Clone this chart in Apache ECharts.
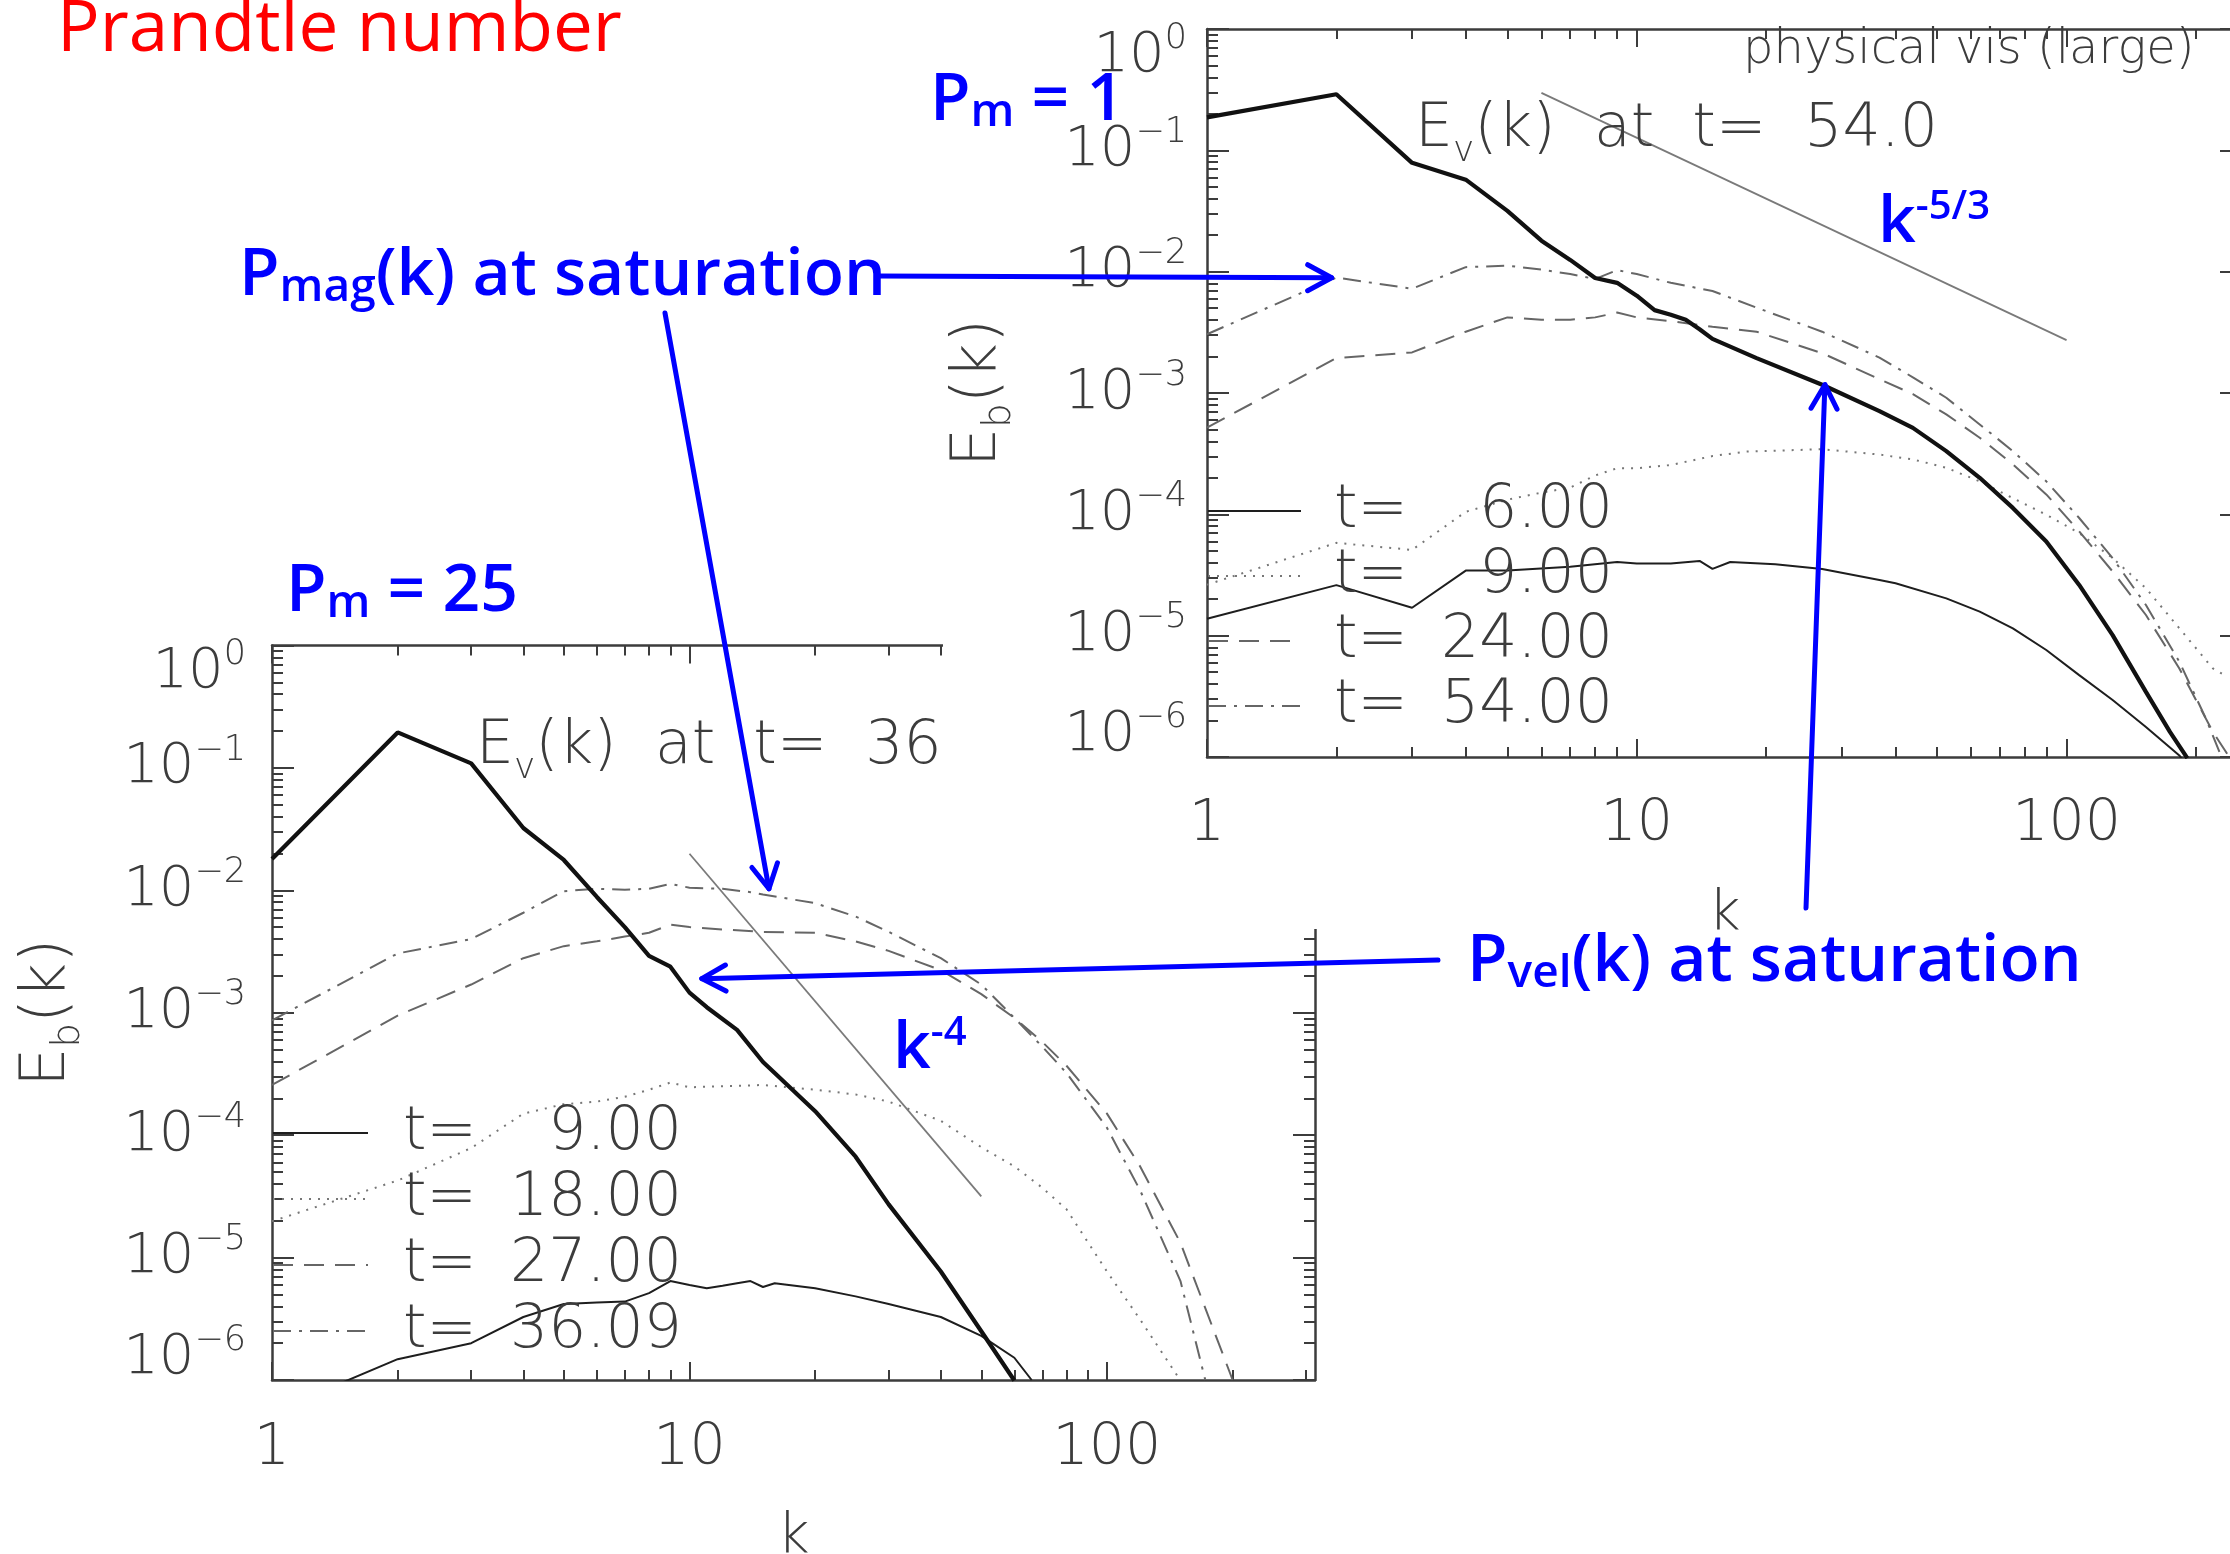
<!DOCTYPE html>
<html>
<head>
<meta charset="utf-8">
<title>Magnetic Prandtl number and the saturated spectra</title>
<script src="https://cdn.jsdelivr.net/npm/echarts@6.0.0/dist/echarts.min.js"></script>
<style>
  html, body { margin: 0; padding: 0; background: #ffffff; }
  #chart { width: 2230px; height: 1554px; }
</style>
</head>
<body>
<div id="chart"></div>
<script>
// ---------------- P_m = 1 run (upper panel) ----------------
// kinetic spectrum E_v(k) at t = 54.0
const pm1_kEv = [1, 2, 3, 4, 5, 6, 7, 8, 9, 10, 11, 12, 13, 14, 15, 19, 27, 36.7, 43.9, 52.5, 62.8, 75, 89.7, 107, 128, 153, 174, 191];
const pm1_Ev  = [0.187, 0.290, 0.0789, 0.0573, 0.0317, 0.0180, 0.0125, 0.00887, 0.00809, 0.00634, 0.00482, 0.00442, 0.00401, 0.00335, 0.00279, 0.00194, 0.00117, 7.10e-4, 5.16e-4, 3.32e-4, 2.00e-4, 1.13e-4, 5.98e-5, 2.62e-5, 1.01e-5, 3.44e-6, 1.61e-6, 9.8e-7];
// magnetic spectra E_b(k)
const pm1_kB6  = [1, 2, 3, 4, 5, 7, 9, 10, 12, 14, 15, 16.5, 21, 27, 36.7, 40, 52.5, 62.8, 75, 89.7, 107, 128, 153, 183, 187];
const pm1_B6   = [1.38e-5, 2.61e-5, 1.70e-5, 3.44e-5, 3.44e-5, 3.70e-5, 4.05e-5, 3.94e-5, 3.94e-5, 4.13e-5, 3.55e-5, 4.05e-5, 3.87e-5, 3.55e-5, 2.88e-5, 2.70e-5, 2.03e-5, 1.58e-5, 1.15e-5, 7.62e-6, 4.73e-6, 2.95e-6, 1.77e-6, 1.03e-6, 9.3e-7];
const pm1_kB9  = [1, 2, 3, 4, 5, 6, 7, 8, 9, 10, 12, 15, 18, 27, 36.7, 44, 52.5, 62.8, 75, 89.7, 107, 128, 153, 183, 219, 237];
const pm1_B9   = [2.63e-5, 5.82e-5, 5.09e-5, 1.05e-4, 1.32e-4, 1.51e-4, 1.66e-4, 2.09e-4, 2.40e-4, 2.40e-4, 2.55e-4, 3.02e-4, 3.29e-4, 3.44e-4, 3.11e-4, 2.83e-4, 2.42e-4, 1.87e-4, 1.36e-4, 9.93e-5, 7.01e-5, 4.36e-5, 2.46e-5, 1.15e-5, 5.37e-6, 4.58e-6];
const pm1_kB24 = [1, 2, 3, 4, 5, 6, 7, 8, 9, 10, 12, 15, 19, 27, 36.7, 44, 52.5, 62.8, 75, 89.7, 107, 128, 153, 183, 219, 240];
const pm1_B24  = [5.18e-4, 1.94e-3, 2.16e-3, 3.20e-3, 4.20e-3, 4.01e-3, 4.01e-3, 4.20e-3, 4.60e-3, 4.20e-3, 3.91e-3, 3.51e-3, 3.20e-3, 2.13e-3, 1.30e-3, 9.75e-4, 6.67e-4, 4.28e-4, 2.58e-4, 1.46e-4, 7.24e-5, 3.38e-5, 1.48e-5, 5.37e-6, 1.61e-6, 9.8e-7];
const pm1_kB54 = [1, 2, 3, 4, 5, 6, 7, 8, 9, 10, 12, 15, 19, 27, 36.7, 44, 52.5, 62.8, 75, 89.7, 107, 128, 153, 183, 211, 230];
const pm1_B54  = [3.05e-3, 8.93e-3, 7.24e-3, 0.0109, 0.0112, 0.0104, 9.55e-3, 8.71e-3, 0.0103, 9.55e-3, 8.09e-3, 6.93e-3, 5.05e-3, 3.20e-3, 1.96e-3, 1.34e-3, 9.14e-4, 5.51e-4, 3.32e-4, 1.87e-4, 9.33e-5, 4.36e-5, 1.79e-5, 6.10e-6, 2.07e-6, 9.8e-7];
// Kolmogorov k^-5/3 guide
const pm1_kRef = [6, 100];
const pm1_Ref  = [0.2975, 0.002725];
const pm1_times = ['6.00', '9.00', '24.00', '54.00'];

// ---------------- P_m = 25 run (lower panel) ----------------
// kinetic spectrum E_v(k) at t = 36
const pm25_kEv = [1, 2, 3, 4, 5, 6, 7, 8, 9, 10, 11, 13, 15, 16, 20, 25, 30, 40, 50, 60];
const pm25_Ev  = [0.0180, 0.195, 0.109, 0.0323, 0.0177, 8.83e-3, 5.01e-3, 2.92e-3, 2.38e-3, 1.46e-3, 1.11e-3, 7.24e-4, 3.96e-4, 3.22e-4, 1.57e-4, 6.67e-5, 2.72e-5, 7.69e-6, 2.50e-6, 9.9e-7];
// magnetic spectra E_b(k)
const pm25_kB9  = [1, 2, 3, 4, 5, 6, 7, 8, 9, 10, 11, 12, 13, 14, 15, 16, 20, 25, 30, 40, 50, 60, 66];
const pm25_B9   = [5.45e-7, 1.48e-6, 2.00e-6, 3.27e-6, 4.18e-6, 4.29e-6, 4.37e-6, 5.13e-6, 6.43e-6, 5.98e-6, 5.62e-6, 5.89e-6, 6.17e-6, 6.43e-6, 5.75e-6, 6.17e-6, 5.62e-6, 4.82e-6, 4.17e-6, 3.27e-6, 2.29e-6, 1.52e-6, 1.0e-6];
const pm25_kB18 = [1, 2, 3, 4, 5, 6, 7, 8, 9, 10, 12, 15, 20, 25, 30, 40, 50, 60, 70, 80, 100, 120, 150];
const pm25_B18  = [1.98e-5, 4.26e-5, 7.85e-5, 1.50e-4, 1.79e-4, 1.88e-4, 2.06e-4, 2.35e-4, 2.69e-4, 2.46e-4, 2.51e-4, 2.57e-4, 2.35e-4, 2.15e-4, 1.88e-4, 1.31e-4, 7.98e-5, 5.57e-5, 3.72e-5, 2.48e-5, 7.69e-6, 3.13e-6, 9.9e-7];
const pm25_kB27 = [1, 2, 3, 4, 5, 6, 7, 8, 9, 10, 12, 15, 20, 25, 30, 40, 50, 60, 70, 80, 100, 120, 150, 200];
const pm25_B27  = [2.57e-4, 9.48e-4, 1.70e-3, 2.79e-3, 3.50e-3, 3.83e-3, 4.19e-3, 4.50e-3, 5.25e-3, 5.01e-3, 4.79e-3, 4.57e-3, 4.50e-3, 3.83e-3, 3.20e-3, 2.23e-3, 1.42e-3, 9.08e-4, 5.78e-4, 3.69e-4, 1.50e-4, 5.57e-5, 1.32e-5, 1.0e-6];
const pm25_kB36 = [1, 2, 3, 4, 5, 6, 7, 8, 9, 10, 12, 14, 15, 20, 25, 30, 40, 50, 60, 70, 80, 100, 120, 150, 172];
const pm25_B36  = [8.67e-4, 3.05e-3, 4.00e-3, 6.56e-3, 9.84e-3, 0.0103, 0.0101, 0.0103, 0.0113, 0.0105, 0.0103, 9.66e-3, 9.25e-3, 7.85e-3, 6.11e-3, 4.58e-3, 2.79e-3, 1.70e-3, 9.08e-4, 5.28e-4, 3.22e-4, 1.15e-4, 3.56e-5, 6.43e-6, 1.0e-6];
// k^-4 guide
const pm25_kRef = [10, 50];
const pm25_Ref  = [0.0199, 3.16e-5];
const pm25_times = ['9.00', '18.00', '27.00', '36.09'];

// axis ranges and tick labels
const yMin = 1e-6, yMax = 1;
const xTickLabels = { 1: '1', 10: '10', 100: '100' };

// ---------------- styling ----------------
const FONT_PLOT = "'DejaVu Sans', 'Liberation Sans', sans-serif";
const FONT_NOTE = "'Comic Sans MS', 'Open Sans', sans-serif";
const INK = '#3c3c3c';
const BLUE = '#0000ff';

const styles = {
  ev:     { color: '#111111', width: 4.2, type: 'solid' },
  solid:  { color: '#1e1e1e', width: 2, type: 'solid' },
  dotted: { color: '#777777', width: 2, type: [2, 7] },
  dashed: { color: '#666666', width: 2, type: [20, 11] },
  dashdot:{ color: '#666666', width: 2, type: [18, 8, 3, 8] },
  guide:  { color: '#7a7a7a', width: 1.8, type: 'solid' }
};

const panels = [
  { grid: { left: 1207, top: 29, width: 1035, height: 728 }, kMax: 256,
    yLabelMargin: 20, xLabelMargin: 40, xNameGap: 129, yNameGap: 188, z: 12,
    legend: { left: 1207, top: 481, itemWidth: 93, itemGap: 5, padT: 28 } },
  { grid: { left: 272, top: 645.5, width: 1043, height: 734.5 }, kMax: 315,
    yLabelMargin: 26, xLabelMargin: 41, xNameGap: 129, yNameGap: 184, z: 2,
    legend: { left: 272, top: 1103, itemWidth: 95, itemGap: 6, padT: 30 } }
];

// minor tick positions (in decades) for the log axes
const MINOR_FRAC = [2, 3, 4, 5, 6, 7, 8, 9].map(m => Math.log10(m));
function minorPositions(lo, hi) {
  const out = [];
  for (let d = Math.floor(lo); d < hi; d++) {
    for (const f of MINOR_FRAC) {
      const v = d + f;
      if (v > lo && v < hi) out.push(v);
    }
  }
  return out;
}

function xLabel(v) {
  const r = Math.round(v);
  return (Math.abs(v - r) < 1e-6 && xTickLabels[r]) ? xTickLabels[r] : '';
}
function yLabel(v) {
  const e = Math.round(Math.log10(v));
  const sup = e === 0 ? '0' : '\u2212' + (-e);
  const main = '{b|10}{s|' + sup + '}';
  if (e === 0) return '{gt| }\n' + main;      // top label sits inside the frame
  if (e === -6) return main + '\n{gb| }';     // bottom label sits inside the frame
  return main;
}
const yRich = {
  b: { fontSize: 56, lineHeight: 70, fontFamily: FONT_PLOT, fontWeight: 200, color: INK },
  s: { fontSize: 35, lineHeight: 34, verticalAlign: 'top', fontFamily: FONT_PLOT, fontWeight: 200, color: INK },
  gt: { fontSize: 10, lineHeight: 54 },
  gb: { fontSize: 10, lineHeight: 44 }
};
const nameRich = {
  n: { fontSize: 62, lineHeight: 80, fontFamily: FONT_PLOT, fontWeight: 200, color: INK },
  s: { fontSize: 39, lineHeight: 38, verticalAlign: 'bottom', fontFamily: FONT_PLOT, fontWeight: 200, color: INK }
};

const xAxes = [], yAxes = [];
panels.forEach((p, gi) => {
  const lk = Math.log10(p.kMax);
  const axisLine = { show: true, onZero: false, lineStyle: { color: INK, width: 2.5 } };
  const noLine = { show: false, onZero: false };
  const tickStyle = { color: INK, width: 2 };
  const common = { gridIndex: gi, z: p.z, splitLine: { show: false }, minorTick: { show: false }, minorSplitLine: { show: false }, silent: true };
  // bottom (labelled) and top frame, major ticks
  xAxes.push(Object.assign({}, common, {
    type: 'log', logBase: 10, position: 'bottom', min: 1, max: p.kMax,
    axisLine, axisTick: { show: true, inside: true, length: 18, interval: 0, lineStyle: tickStyle },
    axisLabel: { show: true, interval: 0, margin: p.xLabelMargin, formatter: xLabel, fontSize: 57, lineHeight: 57,
                 fontFamily: FONT_PLOT, fontWeight: 200, color: INK, showMaxLabel: false },
    name: 'k', nameLocation: 'middle', nameGap: p.xNameGap, nameMoveOverlap: false,
    nameTextStyle: { fontSize: 56, fontFamily: FONT_PLOT, fontWeight: 200, color: INK }
  }));
  xAxes.push(Object.assign({}, common, {
    type: 'log', logBase: 10, position: 'top', min: 1, max: p.kMax,
    axisLine, axisTick: { show: true, inside: true, length: 18, interval: 0, lineStyle: tickStyle },
    axisLabel: { show: false }
  }));
  // minor ticks (linear in decades)
  ['bottom', 'top'].forEach(pos => xAxes.push(Object.assign({}, common, {
    type: 'value', position: pos, min: 0, max: lk,
    axisLine: noLine, axisLabel: { show: false },
    axisTick: { show: true, inside: true, length: 10, customValues: minorPositions(0, lk), lineStyle: tickStyle }
  })));

  yAxes.push(Object.assign({}, common, {
    type: 'log', logBase: 10, position: 'left', min: yMin, max: yMax,
    axisLine, axisTick: { show: true, inside: true, length: 22, interval: 0, lineStyle: tickStyle },
    axisLabel: { show: true, interval: 0, margin: p.yLabelMargin, formatter: yLabel, rich: yRich, align: 'right' },
    name: '{n|E}{s|b}{n|(k)}', nameLocation: 'middle', nameGap: p.yNameGap, nameRotate: 90, nameMoveOverlap: false,
    nameTextStyle: { rich: nameRich }
  }));
  yAxes.push(Object.assign({}, common, {
    type: 'log', logBase: 10, position: 'right', min: yMin, max: yMax,
    axisLine, axisTick: { show: true, inside: true, length: 22, interval: 0, lineStyle: tickStyle },
    axisLabel: { show: false }
  }));
  ['left', 'right'].forEach(pos => yAxes.push(Object.assign({}, common, {
    type: 'value', position: pos, min: -6, max: 0,
    axisLine: noLine, axisLabel: { show: false },
    axisTick: { show: true, inside: true, length: 11, customValues: minorPositions(-6, 0), lineStyle: tickStyle }
  })));
});

function line(name, ks, es, style, gi) {
  return {
    type: 'line', name, xAxisIndex: gi * 4, yAxisIndex: gi * 4,
    data: ks.map((k, i) => [k, es[i]]),
    symbol: 'none', showSymbol: false, smooth: false, clip: true, silent: true,
    lineStyle: Object.assign({}, style), z: panels[gi].z + 1
  };
}

const series = [
  line('pm1_B6', pm1_kB6, pm1_B6, styles.solid, 0),
  line('pm1_B9', pm1_kB9, pm1_B9, styles.dotted, 0),
  line('pm1_B24', pm1_kB24, pm1_B24, styles.dashed, 0),
  line('pm1_B54', pm1_kB54, pm1_B54, styles.dashdot, 0),
  line('pm1_Ev', pm1_kEv, pm1_Ev, styles.ev, 0),
  line('pm1_ref', pm1_kRef, pm1_Ref, styles.guide, 0),
  line('pm25_B9', pm25_kB9, pm25_B9, styles.solid, 1),
  line('pm25_B18', pm25_kB18, pm25_B18, styles.dotted, 1),
  line('pm25_B27', pm25_kB27, pm25_B27, styles.dashed, 1),
  line('pm25_B36', pm25_kB36, pm25_B36, styles.dashdot, 1),
  line('pm25_Ev', pm25_kEv, pm25_Ev, styles.ev, 1),
  line('pm25_ref', pm25_kRef, pm25_Ref, styles.guide, 1)
];

// legend entries: series name -> time label
const legendText = {};
['pm1_B6', 'pm1_B9', 'pm1_B24', 'pm1_B54'].forEach((n, i) => legendText[n] = pm1_times[i]);
['pm25_B9', 'pm25_B18', 'pm25_B27', 'pm25_B36'].forEach((n, i) => legendText[n] = pm25_times[i]);

function makeLegend(p, names) {
  return {
    show: true, orient: 'vertical', left: p.legend.left, top: p.legend.top, padding: 0,
    itemWidth: p.legend.itemWidth, itemHeight: 4, itemGap: p.legend.itemGap,
    selectedMode: false, z: p.z + 2,
    itemStyle: { opacity: 0 },
    data: names,
    formatter: n => '{t|t=}{v|' + legendText[n] + '}',
    textStyle: {
      color: INK, fontFamily: FONT_PLOT, fontWeight: 200, fontSize: 60, lineHeight: 60,
      rich: {
        t: { fontSize: 60, lineHeight: 60, fontFamily: FONT_PLOT, fontWeight: 200, color: INK, padding: [0, 0, 0, p.legend.padT] },
        v: { fontSize: 60, lineHeight: 60, fontFamily: FONT_PLOT, fontWeight: 200, color: INK, width: 205, align: 'right' }
      }
    }
  };
}

const option = {
  backgroundColor: '#ffffff',
  animation: false,
  grid: panels.map(p => Object.assign({ outerBoundsMode: 'none', containLabel: false, show: false }, p.grid)),
  xAxis: xAxes,
  yAxis: yAxes,
  legend: [
    makeLegend(panels[0], ['pm1_B6', 'pm1_B9', 'pm1_B24', 'pm1_B54']),
    makeLegend(panels[1], ['pm25_B9', 'pm25_B18', 'pm25_B27', 'pm25_B36'])
  ],
  series
};

const chart = echarts.init(document.getElementById('chart'), null, { renderer: 'canvas', width: 2230, height: 1554 });
chart.setOption(option);

// ---------------- annotations ----------------
function plotText(x, y, rich, text, z) {
  return { type: 'text', z, silent: true,
    style: { x, y, text, rich, verticalAlign: 'middle', align: 'left', fill: INK,
             fontFamily: FONT_PLOT, fontWeight: 200, fontSize: 60 } };
}
const plotRich = {
  a: { fontSize: 60, lineHeight: 80, fontFamily: FONT_PLOT, fontWeight: 200, fill: INK },
  s: { fontSize: 36, lineHeight: 36, verticalAlign: 'bottom', fontFamily: FONT_PLOT, fontWeight: 200, fill: INK }
};
const noteRich = {
  p:   { fontSize: 66, lineHeight: 70, fontFamily: FONT_NOTE, fontWeight: 600, fill: BLUE },
  sub: { fontSize: 46, lineHeight: 16, verticalAlign: 'bottom', fontFamily: FONT_NOTE, fontWeight: 600, fill: BLUE },
  sup: { fontSize: 40, lineHeight: 50, verticalAlign: 'top', fontFamily: FONT_NOTE, fontWeight: 600, fill: BLUE }
};
function note(x, y, text, z) {
  return { type: 'text', z: z || 30, silent: true,
    style: { x, y, text, rich: noteRich, verticalAlign: 'middle', align: 'left', fill: BLUE,
             fontFamily: FONT_NOTE, fontWeight: 600, fontSize: 66 } };
}

function arrow(from, to, z) {
  const dx = to[0] - from[0], dy = to[1] - from[1];
  const len = Math.hypot(dx, dy), ux = dx / len, uy = dy / len;
  const back = 24, half = 13;
  const bx = to[0] - ux * back, by = to[1] - uy * back;
  const head = [[bx - uy * half, by + ux * half], to, [bx + uy * half, by - ux * half]];
  const st = { stroke: BLUE, lineWidth: 5, lineCap: 'round', lineJoin: 'round', fill: null };
  return [
    { type: 'line', z, silent: true, shape: { x1: from[0], y1: from[1], x2: to[0], y2: to[1] }, style: st },
    { type: 'polyline', z, silent: true, shape: { points: head }, style: st }
  ];
}

const px = (gi, k, e) => chart.convertToPixel({ xAxisIndex: gi * 4, yAxisIndex: gi * 4 }, [k, e]);

const elements = [
  // the upper panel is laid over the lower one
  { type: 'rect', z: 11, silent: true, shape: { x: 943, y: 0, width: 1300, height: 929 }, style: { fill: '#ffffff' } },
  plotText(1415, 130, plotRich, '{a|E}{s|v}{a|(k)  at  t=  54.0}', 14),
  plotText(476, 747, plotRich, '{a|E}{s|v}{a|(k)  at  t=  36}', 5),
  { type: 'text', z: 14, silent: true,
    style: { x: 1743, y: 51, text: 'physical vis (large)', fill: INK, fontFamily: FONT_PLOT, fontWeight: 200,
             fontSize: 48, verticalAlign: 'middle', align: 'left' } },
  { type: 'text', z: 30, silent: true,
    style: { x: 57, y: 31, text: 'Prandtle number', fill: '#ff0000', fontFamily: FONT_NOTE, fontWeight: 400,
             fontSize: 71, verticalAlign: 'middle', align: 'left' } },
  note(930, 101, '{p|P}{sub|m}{p| = 1}'),
  note(286, 592, '{p|P}{sub|m}{p| = 25}'),
  note(239, 276, '{p|P}{sub|mag}{p|(k) at saturation}'),
  note(1467, 962, '{p|P}{sub|vel}{p|(k) at saturation}'),
  note(1878, 223, '{p|k}{sup|-5/3}'),
  note(893, 1049, '{p|k}{sup|-4}')
];
elements.push(...arrow([877, 276], px(0, 1.95, 8.9e-3), 30));
elements.push(...arrow([665, 313], px(1, 15.5, 0.0103), 30));
elements.push(...arrow([1438, 960], px(1, 10.7, 1.9e-3), 30));
elements.push(...arrow([1806, 908], px(0, 27.4, 1.17e-3), 30));

chart.setOption({ graphic: { elements } });
</script>
</body>
</html>
